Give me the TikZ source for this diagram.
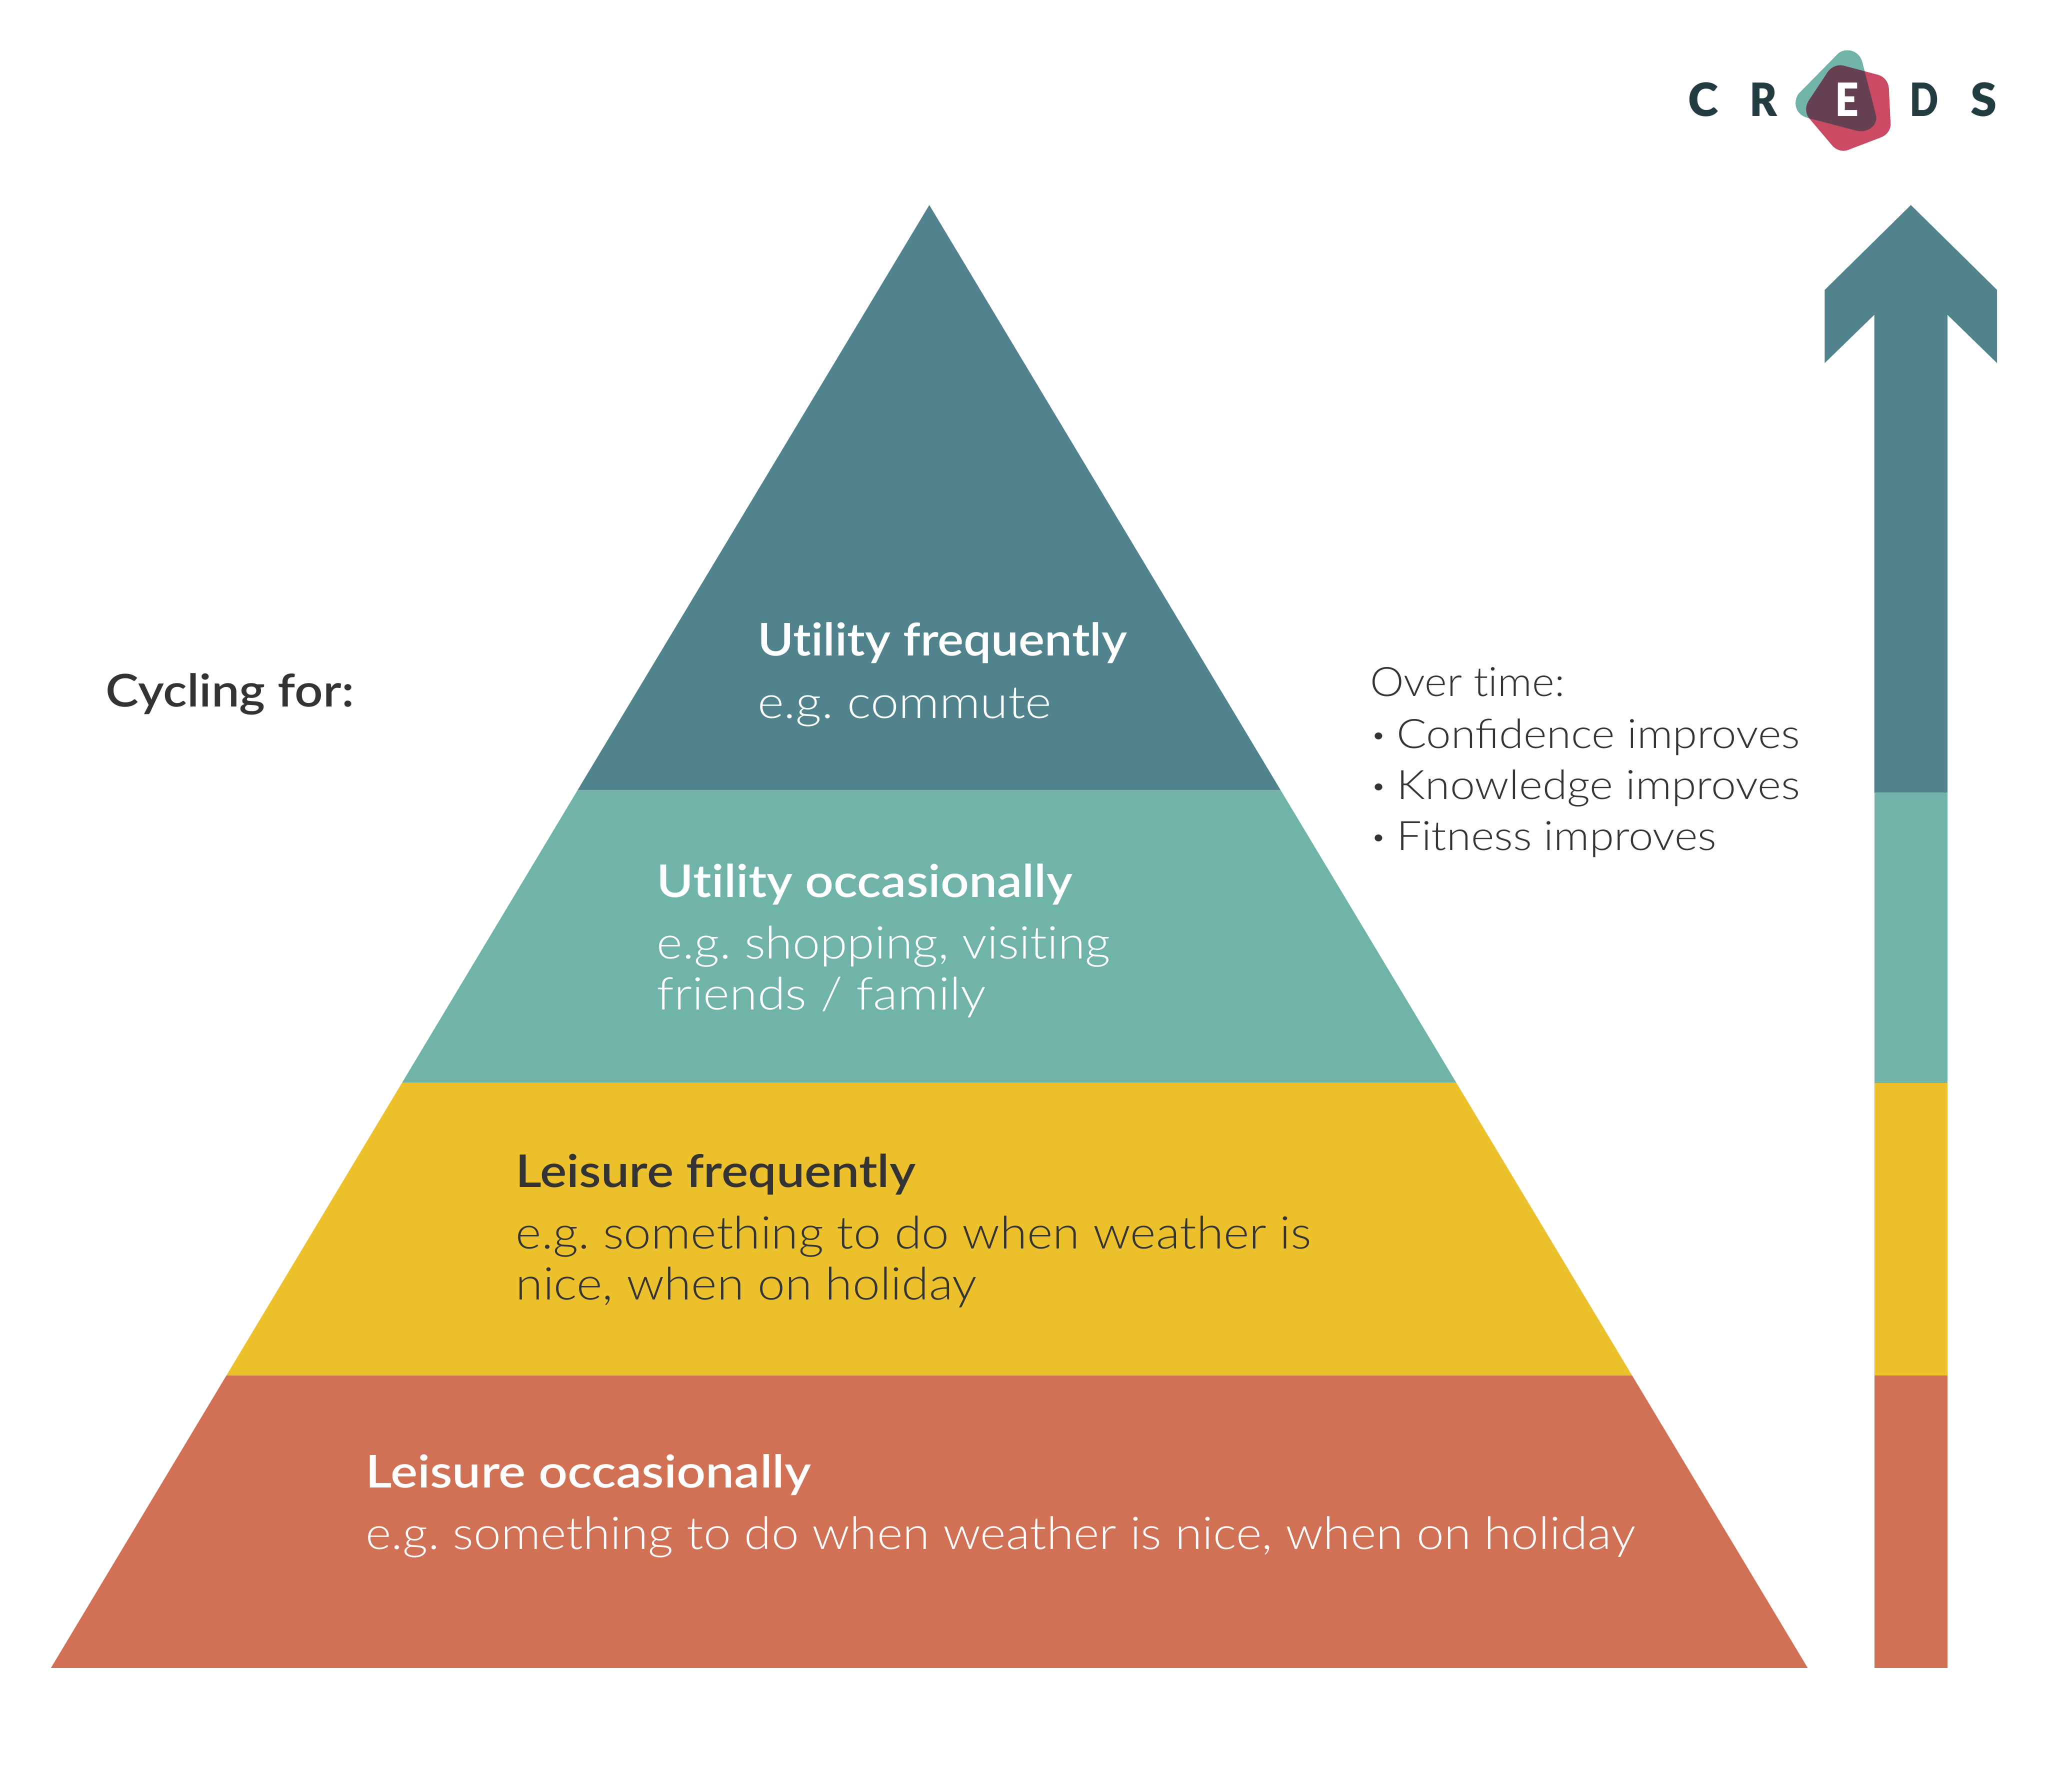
\documentclass[tikz,border=0pt]{standalone}
\usepackage{fontspec}
\usepackage{graphicx}
\setmainfont{Lato}
\newfontfamily\lightf{Lato Light}
\newfontfamily\medf{Lato Semibold}
\newfontfamily\logof{Lato Black}
\definecolor{dteal}{HTML}{50838C}
\definecolor{lteal}{HTML}{70B4A9}
\definecolor{yell}{HTML}{ECC02B}
\definecolor{terra}{HTML}{D07055}
\definecolor{ink}{HTML}{333333}
\definecolor{logoink}{HTML}{233C41}
\definecolor{logored}{HTML}{CB4A63}
\definecolor{logodark}{HTML}{654050}
\newlength\pxu
\setlength\pxu{0.03cm}
\newcommand{\fitw}[2]{\resizebox{#1\pxu}{\height}{#2}}
\newcommand{\nl}{\kern0pt }
\newcommand{\bul}{{\medf ·}\ }
\newcommand{\tealpath}{(760,140) -- (590,405) .. controls (565,445) and (560,555) .. (635,580) -- (855,668) .. controls (915,680) and (945,610) .. (937,560) -- (875,190) .. controls (860,100) and (790,85) .. (760,140) -- cycle}
\newcommand{\redpath}{(790,215) -- (945,278) .. controls (975,290) and (993,330) .. (995,370) -- (1003,620) .. controls (1004,660) and (985,700) .. (955,715) -- (810,800) .. controls (785,815) and (755,800) .. (737,765) -- (635,580) .. controls (620,550) and (615,505) .. (632,460) -- (710,280) .. controls (725,235) and (755,203) .. (790,215) -- cycle}
\tikzset{
  txt/.style={anchor=base west,inner sep=0pt,outer sep=0pt},
  head/.style={txt,font=\fontsize{29.5pt}{33pt}\selectfont\medf\frenchspacing},
  body/.style={txt,font=\fontsize{29.5pt}{33pt}\selectfont\lightf\frenchspacing},
  side/.style={txt,font=\fontsize{26.5pt}{30pt}\selectfont\lightf\frenchspacing,text=ink},
  logoletter/.style={anchor=base,inner sep=0pt,outer sep=0pt,text=logoink,font=\fontsize{30pt}{32pt}\selectfont\logof}
}
\begin{document}
\begin{tikzpicture}[x=0.03cm,y=-0.03cm]
\useasboundingbox (0,0) rectangle (1568,1372);
% pyramid
\fill[terra] (173.4,1053) -- (1249.5,1053) -- (1384,1277) -- (39,1277) -- cycle;
\fill[yell] (307.8,829) -- (1115,829) -- (1249.5,1053) -- (173.4,1053) -- cycle;
\fill[lteal] (442.2,605) -- (980.5,605) -- (1115,829) -- (307.8,829) -- cycle;
\fill[dteal] (711.5,157) -- (980.5,605) -- (442.2,605) -- cycle;
% arrow
\fill[terra] (1435,1053) rectangle (1491,1277);
\fill[yell] (1435,829) rectangle (1491,1053);
\fill[lteal] (1435,607) rectangle (1491,829);
\fill[dteal] (1463,157) -- (1529,222) -- (1529,278) -- (1491,241) -- (1491,607) -- (1435,607) -- (1435,241) -- (1397,278) -- (1397,222) -- cycle;
% logo
\begin{scope}[shift={(1277.6,26.55)},x=0.005079cm,y=-0.003318cm]
\fill[lteal] \tealpath;
\fill[logored] \redpath;
\begin{scope}
\clip \tealpath;
\fill[logodark] \redpath;
\end{scope}
\end{scope}
\node[logoletter] (lc) at (1304,89) {\resizebox{23\pxu}{\height}{C}};
\node[logoletter] (lr) at (1350,89) {\resizebox{21\pxu}{\height}{R}};
\node[logoletter,text=white] (le) at (1414,89) {\resizebox{18\pxu}{\height}{E}};
\node[logoletter] (ld) at (1473,89) {\resizebox{22\pxu}{\height}{D}};
\node[logoletter] (ls) at (1519,89) {\resizebox{20\pxu}{\height}{S}};
% texts
\node[head,text=ink] (cyc) at (81,541) {\fitw{190}{Cycling for:}};
\node[head,text=white] (uf) at (580,502) {\fitw{283}{Ut\nl ility frequently}};
\node[body,text=white] (ufe) at (580,550) {\fitw{225}{e.g. commute}};
\node[head,text=white] (uo) at (503,687) {\fitw{318}{Ut\nl ility occasionally}};
\node[body,text=white] (uoa) at (503,734) {\fitw{347}{e.g. shopping, visit\nl ing}};
\node[body,text=white] (uob) at (503,773) {\fitw{252}{friends / family}};
\node[head,text=ink] (lf) at (395,909) {\fitw{306}{Leisure frequently}};
\node[body,text=ink] (lfa) at (395,956) {\fitw{609}{e.g. something to do when weather is}};
\node[body,text=ink] (lfb) at (395,995) {\fitw{353}{nice, when on holiday}};
\node[head,text=white] (lo) at (280,1139) {\fitw{341}{Leisure occasionally}};
\node[body,text=white] (loa) at (280,1186) {\fitw{972}{e.g. something to do when weather is nice, when on holiday}};
\node[side] (ot) at (1049,533) {\fitw{149}{Over t\nl ime:}};
\node[side] (oa) at (1051,573) {\fitw{327}{\bul Confidence improves}};
\node[side] (ob) at (1051,612) {\fitw{327}{\bul Knowledge improves}};
\node[side] (oc) at (1051,651) {\fitw{263}{\bul Fit\nl ness improves}};
\end{tikzpicture}
\end{document}
